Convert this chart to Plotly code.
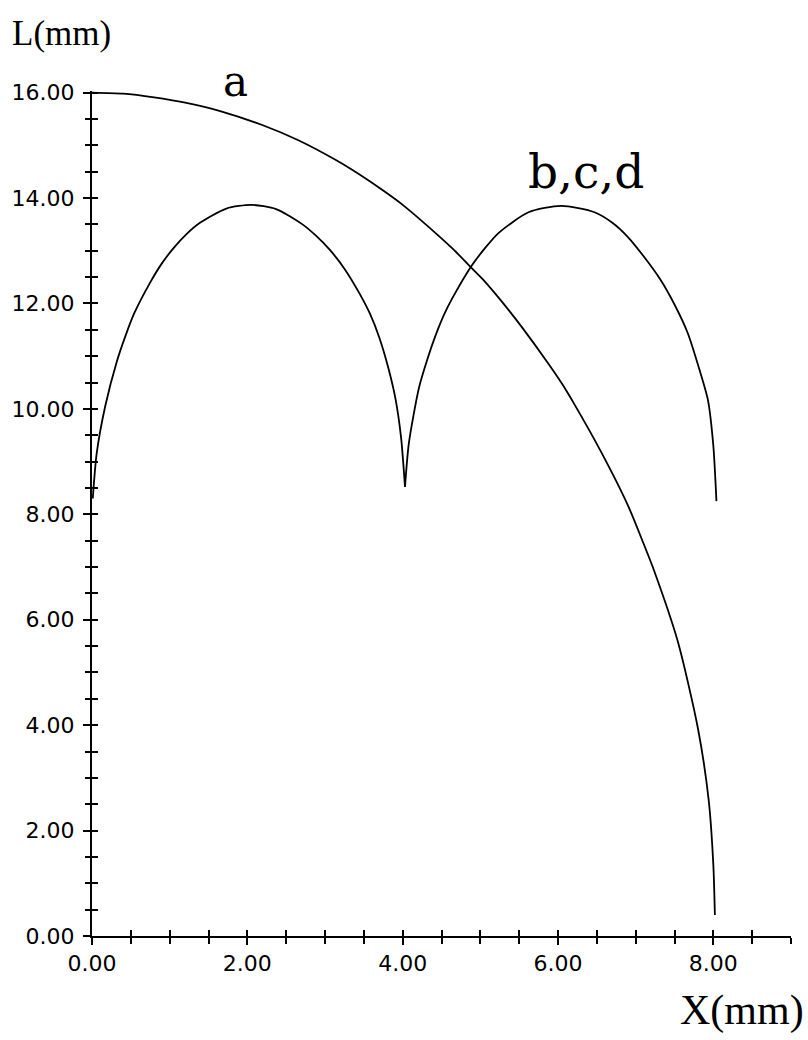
import plotly.graph_objects as go

# Curve a: single ellipse-like profile, L(mm) versus X(mm)
a_x = [0.00, 0.40, 0.80, 1.20, 1.65, 2.20, 2.65, 3.14, 3.45, 3.74, 4.00, 4.42, 4.65, 4.89,
       5.05, 5.28, 5.53, 5.87, 6.05, 6.21, 6.56, 6.90, 7.10, 7.24, 7.54, 7.80, 7.94, 8.00, 8.02]
a_y = [16.00, 15.98, 15.91, 15.81, 15.65, 15.38, 15.10, 14.72, 14.44, 14.15, 13.87, 13.34, 13.03, 12.67,
       12.43, 12.03, 11.56, 10.87, 10.48, 10.09, 9.17, 8.17, 7.45, 6.92, 5.60, 3.95, 2.58, 1.35, 0.40]

# Curves b, c, d: two arches meeting at a cusp near X = 4 mm
bcd1_x = [0.01, 0.06, 0.17, 0.32, 0.43, 0.54, 0.75, 0.90, 1.05, 1.22, 1.39, 1.73, 2.05, 2.37,
          2.71, 2.88, 3.06, 3.25, 3.44, 3.58, 3.70, 3.82, 3.91, 3.98, 4.03]
bcd1_y = [8.30, 9.15, 10.05, 10.90, 11.38, 11.80, 12.40, 12.76, 13.05, 13.32, 13.53, 13.80, 13.87, 13.79,
          13.50, 13.29, 13.02, 12.66, 12.20, 11.80, 11.35, 10.75, 10.17, 9.45, 8.52]
bcd2_x = [4.03, 4.08, 4.21, 4.32, 4.42, 4.53, 4.64, 4.89, 5.05, 5.23, 5.62, 6.04, 6.47, 6.70,
          6.90, 7.10, 7.32, 7.50, 7.67, 7.82, 7.93, 8.00, 8.04]
bcd2_y = [8.52, 9.35, 10.40, 10.95, 11.38, 11.78, 12.10, 12.72, 13.03, 13.33, 13.73, 13.85, 13.73, 13.53,
          13.26, 12.90, 12.45, 11.98, 11.44, 10.75, 10.17, 9.30, 8.25]

x_tick_vals = [0, 2, 4, 6, 8]
x_tick_text = ["0.00", "2.00", "4.00", "6.00", "8.00"]
y_tick_vals = [0, 2, 4, 6, 8, 10, 12, 14, 16]
y_tick_text = ["0.00", "2.00", "4.00", "6.00", "8.00", "10.00", "12.00", "14.00", "16.00"]

INK = "black"
line_style = dict(color=INK, width=1.8, shape="spline", smoothing=0.7)

fig = go.Figure()
fig.add_trace(go.Scatter(x=a_x, y=a_y, mode="lines", line=line_style, name="a"))
fig.add_trace(go.Scatter(x=bcd1_x, y=bcd1_y, mode="lines", line=line_style, name="b,c,d"))
fig.add_trace(go.Scatter(x=bcd2_x, y=bcd2_y, mode="lines", line=line_style, name="b,c,d"))
# empty trace that activates the overlaid axes carrying the inner half of each tick
fig.add_trace(go.Scatter(x=[], y=[], xaxis="x2", yaxis="y2", showlegend=False))

X_RANGE = [0, 9]
Y_RANGE = [0, 16.03]
tick_font = dict(family="DejaVu Sans", size=22, color=INK)

common = dict(showgrid=False, zeroline=False, tickcolor=INK, tickwidth=1.5)

W, H = 808, 1040
M_L, M_R, M_T, M_B = 89, 17, 91, 104

fig.update_layout(
    width=W, height=H,
    margin=dict(l=M_L, r=M_R, t=M_T, b=M_B),
    paper_bgcolor="white", plot_bgcolor="white",
    showlegend=False,
    xaxis=dict(range=X_RANGE, showline=True, linecolor=INK, linewidth=2,
               ticks="outside", ticklen=7, tickvals=x_tick_vals, ticktext=x_tick_text,
               tickfont=tick_font, ticklabelstandoff=0,
               minor=dict(dtick=0.5, tick0=0, ticks="outside", ticklen=6,
                          tickcolor=INK, tickwidth=1.5),
               **common),
    yaxis=dict(range=Y_RANGE, showline=True, linecolor=INK, linewidth=2,
               ticks="outside", ticklen=7, tickvals=y_tick_vals, ticktext=y_tick_text,
               tickfont=tick_font, ticklabelstandoff=4,
               minor=dict(dtick=0.5, tick0=0, ticks="outside", ticklen=5,
                          tickcolor=INK, tickwidth=1.5),
               **common),
    xaxis2=dict(range=X_RANGE, overlaying="x", anchor="y2", side="bottom",
                ticks="inside", ticklen=6, tickvals=x_tick_vals, showticklabels=False,
                showline=False,
                minor=dict(dtick=0.5, tick0=0, ticks="inside", ticklen=6,
                           tickcolor=INK, tickwidth=1.5),
                **common),
    yaxis2=dict(range=Y_RANGE, overlaying="y", anchor="x2", side="left",
                ticks="inside", ticklen=6, tickvals=y_tick_vals, showticklabels=False,
                showline=False,
                minor=dict(dtick=0.5, tick0=0, ticks="inside", ticklen=6,
                           tickcolor=INK, tickwidth=1.5),
                **common),
)


def paper_pos(px, py):
    """Convert a page pixel position into paper coordinates."""
    pw = W - M_L - M_R
    ph = H - M_T - M_B
    return (px - M_L) / pw, (H - M_B - py) / ph


def label(text, px, py, family, size):
    x, y = paper_pos(px, py)
    fig.add_annotation(text=text, xref="paper", yref="paper", x=x, y=y,
                       xanchor="center", yanchor="middle", showarrow=False,
                       font=dict(family=family, size=size, color=INK))


label("L(mm)", 58, 34, "Liberation Serif", 35)
label("X(mm)", 742, 1010, "Liberation Serif", 42)
label("a", 233, 82, "DejaVu Serif", 42)
label("b,c,d", 585, 171, "DejaVu Serif", 47)

fig.write_html("out.html")
